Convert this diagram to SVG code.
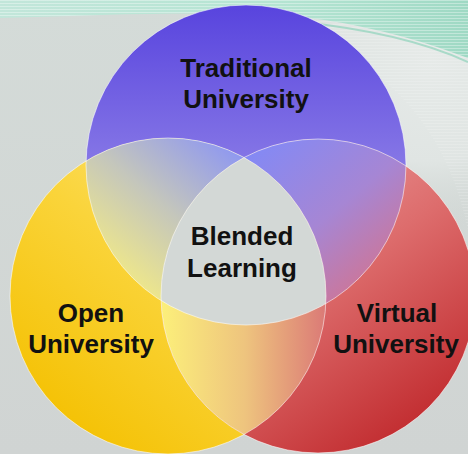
<svg xmlns="http://www.w3.org/2000/svg" width="468" height="454" viewBox="0 0 468 454">
  <style>
    .label { font-family: "Liberation Sans", Arial, sans-serif; font-weight: bold; font-size: 26px; fill: #111; text-anchor: middle; }
    .edge { fill: none; stroke: #ffffff; stroke-opacity: 0.55; stroke-width: 1; }
  </style>
  <defs>
    <!-- circle geometry -->
    <circle id="cTop" cx="246" cy="165" r="160"/>
    <circle id="cLeft" cx="168" cy="296" r="158"/>
    <circle id="cRight" cx="318" cy="296" r="157"/>

    <clipPath id="clipTop"><use href="#cTop"/></clipPath>
    <clipPath id="clipLeft"><use href="#cLeft"/></clipPath>
    <clipPath id="clipRight"><use href="#cRight"/></clipPath>

    <linearGradient id="gBg" x1="0" y1="0" x2="0" y2="1">
      <stop offset="0" stop-color="#d4dbd8"/>
      <stop offset="1" stop-color="#d0d4d3"/>
    </linearGradient>
    <linearGradient id="gTeal" x1="0" y1="0" x2="1" y2="0">
      <stop offset="0" stop-color="#c2e6da"/>
      <stop offset="0.6" stop-color="#b4e4d2"/>
      <stop offset="1" stop-color="#9fd9c4"/>
    </linearGradient>
    <radialGradient id="gSwath" gradientUnits="userSpaceOnUse" cx="430" cy="60" r="170">
      <stop offset="0" stop-color="#e6eae8"/>
      <stop offset="0.6" stop-color="#e0e5e3"/>
      <stop offset="1" stop-color="#d4dad7" stop-opacity="0"/>
    </radialGradient>
    <pattern id="stripes" width="6" height="3" patternUnits="userSpaceOnUse">
      <rect width="6" height="1" fill="#ffffff" fill-opacity="0.35"/>
    </pattern>

    <linearGradient id="gTop" gradientUnits="userSpaceOnUse" x1="0" y1="5" x2="0" y2="325">
      <stop offset="0" stop-color="#5844de"/>
      <stop offset="0.5" stop-color="#8677e6"/>
      <stop offset="1" stop-color="#b3aaf0"/>
    </linearGradient>
    <linearGradient id="gLeft" gradientUnits="userSpaceOnUse" x1="300" y1="150" x2="60" y2="440">
      <stop offset="0" stop-color="#fde88a"/>
      <stop offset="0.5" stop-color="#fad43a"/>
      <stop offset="1" stop-color="#f4c000"/>
    </linearGradient>
    <linearGradient id="gRight" gradientUnits="userSpaceOnUse" x1="240" y1="150" x2="440" y2="440">
      <stop offset="0" stop-color="#eda0a0"/>
      <stop offset="0.45" stop-color="#dd6c6c"/>
      <stop offset="1" stop-color="#be2428"/>
    </linearGradient>

    <linearGradient id="gLensTL" gradientUnits="userSpaceOnUse" x1="235" y1="150" x2="110" y2="300">
      <stop offset="0" stop-color="#8f98f0"/>
      <stop offset="0.45" stop-color="#c4c6bc"/>
      <stop offset="1" stop-color="#fcf27a"/>
    </linearGradient>
    <linearGradient id="gLensTR" gradientUnits="userSpaceOnUse" x1="255" y1="150" x2="380" y2="300">
      <stop offset="0" stop-color="#8489f4"/>
      <stop offset="0.5" stop-color="#a686d4"/>
      <stop offset="1" stop-color="#d6728a"/>
    </linearGradient>
    <linearGradient id="gLensB" gradientUnits="userSpaceOnUse" x1="160" y1="0" x2="330" y2="0">
      <stop offset="0" stop-color="#fcf07a"/>
      <stop offset="0.5" stop-color="#eec47e"/>
      <stop offset="1" stop-color="#da7676"/>
    </linearGradient>
  </defs>

  <!-- backdrop -->
  <rect width="468" height="454" fill="url(#gBg)"/>
  <rect width="468" height="260" fill="url(#gSwath)"/>
  <path d="M250,10 H468 V230 C450,140 400,80 330,45 C300,30 275,18 250,10 Z" fill="url(#stripes)" opacity="0.45"/>
  <path d="M0,0 H468 V58 C420,40 370,26 310,18 C230,10 120,14 0,18 Z" fill="url(#gTeal)"/>
  <path d="M0,0 H468 V58 C420,40 370,26 310,18 C230,10 120,14 0,18 Z" fill="url(#stripes)"/>
  <path d="M300,22 C360,28 420,40 468,62" fill="none" stroke="#8fd3bb" stroke-width="2" opacity="0.7"/>

  <!-- circles -->
  <g id="traditional-university">
    <use href="#cTop" fill="url(#gTop)"/>
  </g>
  <g id="open-university">
    <use href="#cLeft" fill="url(#gLeft)"/>
  </g>
  <g id="virtual-university">
    <use href="#cRight" fill="url(#gRight)"/>
  </g>

  <!-- pairwise overlaps -->
  <g id="overlaps">
    <g clip-path="url(#clipTop)"><use href="#cLeft" fill="url(#gLensTL)"/></g>
    <g clip-path="url(#clipTop)"><use href="#cRight" fill="url(#gLensTR)"/></g>
    <g clip-path="url(#clipLeft)"><use href="#cRight" fill="url(#gLensB)"/></g>
  </g>

  <!-- triple overlap -->
  <g id="blended-learning">
    <g clip-path="url(#clipTop)">
      <g clip-path="url(#clipLeft)">
        <use href="#cRight" fill="#d3d8d6"/>
      </g>
    </g>
  </g>

  <!-- outlines -->
  <g id="connectors">
    <use href="#cTop" class="edge"/>
    <use href="#cLeft" class="edge"/>
    <use href="#cRight" class="edge"/>
  </g>

  <!-- labels -->
  <text class="label" x="246" y="77">Traditional</text>
  <text class="label" x="246" y="108">University</text>
  <text class="label" x="242" y="245">Blended</text>
  <text class="label" x="242" y="277">Learning</text>
  <text class="label" x="91" y="322">Open</text>
  <text class="label" x="91" y="353">University</text>
  <text class="label" x="397" y="322">Virtual</text>
  <text class="label" x="396" y="353">University</text>
</svg>
